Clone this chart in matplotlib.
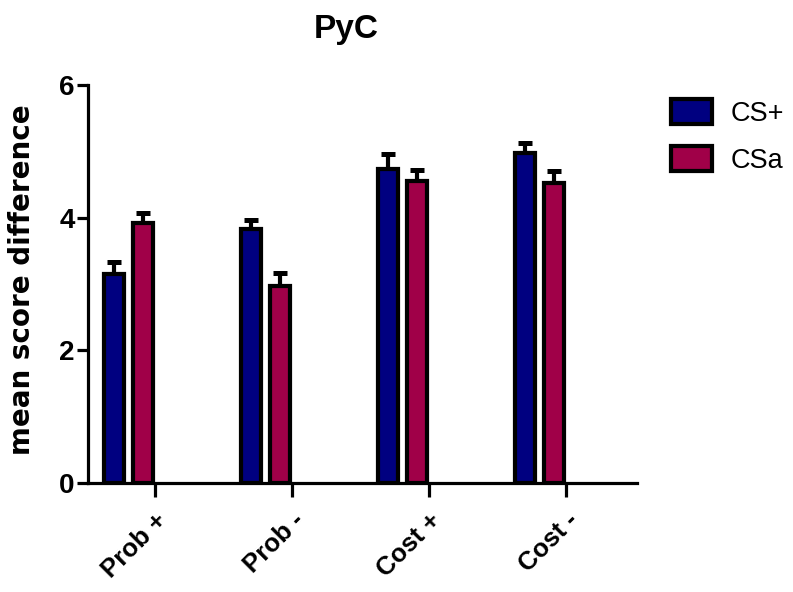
import matplotlib
matplotlib.use("Agg")
import matplotlib.pyplot as plt
import matplotlib.patches as mpatches
import matplotlib.transforms as mtransforms
import numpy as np

categories = ["Prob +", "Prob -", "Cost +", "Cost -"]
series_names = ["CS+", "CSa"]
cs_plus = [3.15, 3.83, 4.74, 4.98]
cs_plus_err = [0.18, 0.14, 0.22, 0.15]
csa = [3.92, 2.97, 4.56, 4.52]
csa_err = [0.15, 0.19, 0.16, 0.19]
yticks = [0, 2, 4, 6]

colors = ["#000080", "#A00048"]

plt.rcParams['font.family'] = ['Liberation Sans', 'DejaVu Sans']

fig = plt.figure(figsize=(7.93, 5.92), dpi=100)
ax = fig.add_axes([88/793, 1 - 483/592, (637 - 88)/793, (483 - 85)/592])

x = np.arange(len(categories))
bw = 0.146
offs = [-0.299, -0.0876]
lw_px = 4.2
lw = lw_px * 72 / 100

for vals, errs, off, col in [(cs_plus, cs_plus_err, offs[0], colors[0]),
                             (csa, csa_err, offs[1], colors[1])]:
    ax.bar(x + off, vals, width=bw, color=col, edgecolor='black',
           linewidth=lw, zorder=3)
    ax.errorbar(x + off, vals, yerr=[np.zeros(len(vals)), errs], fmt='none',
                ecolor='black', elinewidth=3.0, capsize=5, capthick=3.6,
                zorder=2)

ax.set_xlim(-0.489, 3.518)
ax.set_ylim(0, 6)
ax.set_yticks(yticks)
ax.set_yticklabels([str(t) for t in yticks], fontsize=20, fontweight='bold')
ax.set_xticks(x)
ax.set_xticklabels(categories, fontsize=18.5, fontweight='bold', rotation=45,
                   ha='right', va='top', rotation_mode='anchor')
shift = mtransforms.ScaledTranslation(-3/100, 0, fig.dpi_scale_trans)
for lab in ax.get_xticklabels():
    lab.set_transform(lab.get_transform() + shift)

for s in ['top', 'right']:
    ax.spines[s].set_visible(False)
for s in ['left', 'bottom']:
    ax.spines[s].set_linewidth(2.3)
ax.tick_params(axis='y', length=8, width=2.3, pad=1.5)
ax.tick_params(axis='x', length=10, width=2.3, pad=8)

fig.text(346/793, 1 - 38/592, "PyC", ha='center', va='baseline',
         fontsize=24, fontweight='bold')
fig.text(22/793, 1 - 280/592, "mean score difference", rotation=90,
         ha='center', va='center', fontsize=20, fontweight='bold',
         family='DejaVu Sans')

handles = [mpatches.Patch(facecolor=c, edgecolor='black', linewidth=lw,
                          joinstyle='round') for c in colors]
leg = fig.legend(handles, series_names, loc='upper left',
                 bbox_to_anchor=(671/793, 1 - 99/592), frameon=False,
                 fontsize=19.5, handlelength=1.5, handleheight=1.03,
                 handletextpad=0.72, labelspacing=0.72, borderpad=0,
                 borderaxespad=0)

fig.savefig("out.png", dpi=100)
